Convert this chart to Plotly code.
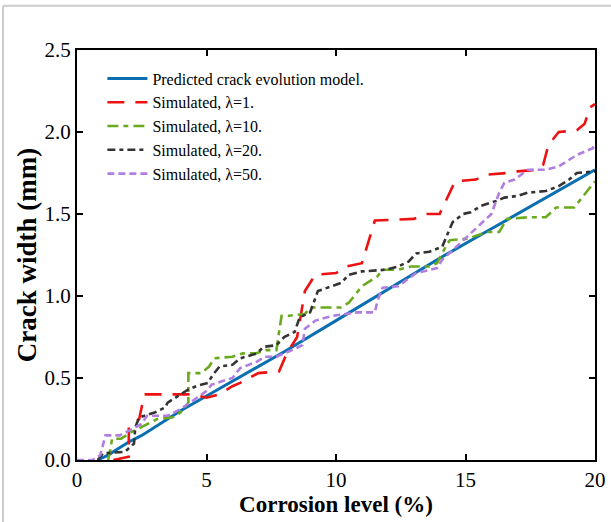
import plotly.graph_objects as go

# Predicted crack evolution model
pred_x = [0.8, 1.2, 1.6, 2.0, 2.5, 3.0, 4.0, 5.0, 6.0, 8.0, 10.0, 12.0, 14.0, 16.0, 18.0, 20.0]
pred_y = [0.0, 0.03, 0.07, 0.11, 0.15, 0.20, 0.30, 0.39, 0.48, 0.66, 0.85, 1.04, 1.23, 1.41, 1.59, 1.77]

# Simulated, lambda = 1
l1_x = [1.4, 2.0, 2.0, 2.4, 2.6, 4.5, 5.0, 5.5, 6.0, 6.3, 7.0, 7.8, 8.1, 8.5, 8.8, 9.2, 10.0, 10.4, 11.0,
        11.3, 11.5, 13.0, 13.5, 14.0, 14.3, 14.6, 15.4, 15.8, 16.6, 17.0, 17.8, 18.0, 18.2, 18.6, 19.3,
        19.6, 19.8, 20.0]
l1_y = [0.0, 0.02, 0.20, 0.25, 0.40, 0.40, 0.38, 0.40, 0.45, 0.47, 0.53, 0.54, 0.65, 0.75, 1.03, 1.13,
        1.14, 1.18, 1.20, 1.35, 1.46, 1.47, 1.50, 1.50, 1.60, 1.70, 1.71, 1.74, 1.75, 1.76, 1.77, 1.80,
        1.92, 2.00, 2.01, 2.05, 2.15, 2.17]

# Simulated, lambda = 10
l10_x = [1.2, 1.3, 1.35, 1.7, 2.1, 3.1, 3.7, 4.0, 4.3, 4.3, 4.8, 5.1, 5.3, 6.0, 6.4, 6.9, 7.3, 7.7, 7.8,
         7.9, 8.2, 8.8, 9.0, 10.2, 10.5, 11.0, 11.6, 11.8, 12.4, 12.9, 13.6, 13.9, 14.3, 14.4, 15.1, 15.8,
         16.3, 16.6, 17.4, 18.1, 18.5, 19.2, 19.5, 20.0]
l10_y = [0.0, 0.07, 0.13, 0.13, 0.17, 0.25, 0.26, 0.29, 0.35, 0.53, 0.53, 0.57, 0.62, 0.63, 0.65, 0.65,
         0.67, 0.67, 0.78, 0.88, 0.88, 0.89, 0.93, 0.93, 0.96, 1.06, 1.12, 1.16, 1.16, 1.18, 1.18, 1.20,
         1.32, 1.34, 1.35, 1.39, 1.39, 1.47, 1.48, 1.48, 1.54, 1.54, 1.60, 1.70]

# Simulated, lambda = 20
l20_x = [0.8, 1.0, 1.85, 2.2, 2.25, 2.4, 3.0, 3.4, 3.5, 4.1, 4.3, 4.6, 5.05, 5.25, 5.5, 6.0, 6.3, 6.95,
         7.2, 7.7, 8.0, 8.4, 8.6, 9.0, 9.3, 10.2, 10.5, 11.0, 11.9, 12.4, 12.8, 13.1, 13.6, 14.1, 14.5,
         14.9, 15.2, 15.6, 16.2, 16.5, 17.0, 17.4, 18.1, 18.6, 19.0, 19.3, 20.0]
l20_y = [0.0, 0.04, 0.05, 0.10, 0.20, 0.26, 0.29, 0.32, 0.35, 0.41, 0.43, 0.45, 0.47, 0.52, 0.57, 0.58,
         0.62, 0.65, 0.69, 0.70, 0.75, 0.78, 0.87, 0.90, 1.03, 1.08, 1.13, 1.15, 1.16, 1.18, 1.21, 1.26,
         1.27, 1.30, 1.45, 1.50, 1.51, 1.55, 1.58, 1.60, 1.61, 1.63, 1.64, 1.67, 1.71, 1.75, 1.76]

# Simulated, lambda = 50
l50_x = [0.0, 0.6, 0.9, 1.0, 1.1, 1.65, 2.25, 2.5, 2.7, 3.5, 4.0, 5.0, 5.2, 6.0, 6.3, 6.95, 7.25, 7.7,
         8.3, 8.7, 8.8, 9.2, 9.9, 10.8, 11.5, 11.6, 11.8, 12.4, 13.1, 13.9, 14.1, 14.7, 15.3, 16.0, 16.3,
         16.5, 16.9, 17.4, 18.1, 18.6, 19.3, 19.9, 20.0]
l50_y = [0.0, 0.0, 0.03, 0.10, 0.15, 0.15, 0.20, 0.22, 0.27, 0.27, 0.31, 0.42, 0.46, 0.50, 0.56, 0.60,
         0.63, 0.63, 0.67, 0.70, 0.80, 0.85, 0.88, 0.90, 0.90, 0.97, 1.05, 1.06, 1.14, 1.17, 1.22, 1.31,
         1.40, 1.50, 1.63, 1.69, 1.71, 1.77, 1.77, 1.79, 1.86, 1.90, 1.92]

names = ["Predicted crack evolution model.", "Simulated, \u03bb=1.", "Simulated, \u03bb=10.",
         "Simulated, \u03bb=20.", "Simulated, \u03bb=50."]
x_ticks = [0, 5, 10, 15, 20]
y_ticks = [0.0, 0.5, 1.0, 1.5, 2.0, 2.5]

FONT = "Liberation Serif, Times New Roman, serif"

fig = go.Figure()
series = [
    (pred_x, pred_y, "#0a6fb0", "solid", 3),
    (l1_x, l1_y, "#ee1111", "17px,11px", 2.6),
    (l10_x, l10_y, "#6aaa1e", "11px,5px,5px,5px", 2.6),
    (l20_x, l20_y, "#333333", "8px,4px,4px,4px", 2.6),
    (l50_x, l50_y, "#b07ee0", "7px,4px", 2.6),
]
for (xs, ys, col, dash, w), nm in zip(series, names):
    fig.add_trace(go.Scatter(x=xs, y=ys, mode="lines", name=nm,
                             line=dict(color=col, dash=dash, width=w)))

axis_common = dict(showline=True, linecolor="black", linewidth=2, mirror="ticks",
                   ticks="inside", ticklen=6, tickwidth=2, tickcolor="black",
                   showgrid=False, zeroline=False, automargin=False,
                   tickfont=dict(family=FONT, size=21, color="black"))

fig.update_layout(
    width=611, height=522,
    margin=dict(l=77, r=16, t=50, b=62),
    paper_bgcolor="white", plot_bgcolor="white",
    font=dict(family=FONT, color="black"),
    xaxis=dict(range=[0, 20], tickvals=x_ticks, ticktext=[str(v) for v in x_ticks],
               title=dict(text="<b>Corrosion level (%)</b>", font=dict(family=FONT, size=23), standoff=2),
               **axis_common),
    yaxis=dict(range=[0, 2.5], tickvals=y_ticks, ticktext=["%.1f" % v for v in y_ticks],
               title=dict(text="<b>Crack width (mm)</b>", font=dict(family=FONT, size=27), standoff=0),
               **axis_common),
    legend=dict(x=0.049, y=0.972, xanchor="left", yanchor="top", bgcolor="rgba(0,0,0,0)",
                font=dict(family=FONT, size=16, color="black"), tracegroupgap=0, itemwidth=40),
    showlegend=True,
)

# faint frame around the image (top and left edges)
fig.add_shape(type="line", xref="paper", yref="paper", x0=-0.1429, x1=1.06, y0=1.108, y1=1.108,
              line=dict(color="#cccccc", width=2))
fig.add_shape(type="line", xref="paper", yref="paper", x0=-0.1429, x1=-0.1429, y0=1.108, y1=-0.16,
              line=dict(color="#cccccc", width=2))

fig.write_html("out.html", config={"displayModeBar": False},
               post_script="document.body.style.margin='0px';")
